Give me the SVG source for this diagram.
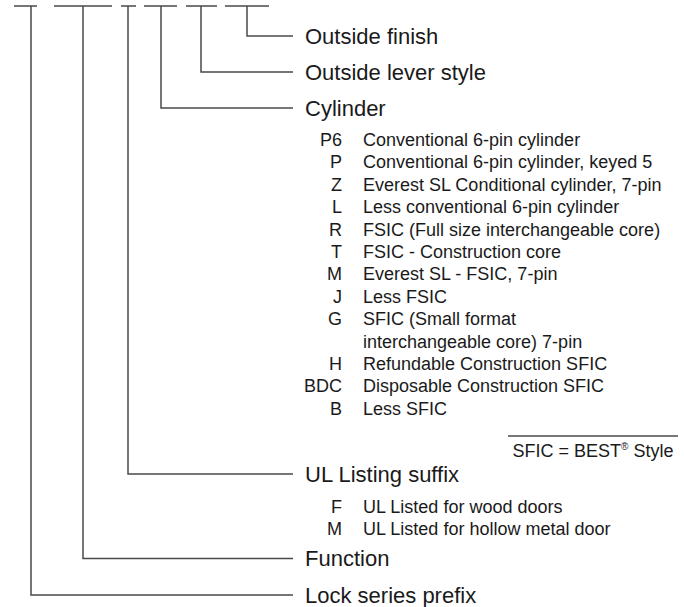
<svg xmlns="http://www.w3.org/2000/svg" width="684" height="607" viewBox="0 0 684 607">
<style>
  .ln { stroke: #4a4a4a; stroke-width: 1.5; fill: none; }
  .main { font-family: "Liberation Sans", Arial, sans-serif; font-size: 22px; fill: #1a1a1a; }
  .code { font-family: "Liberation Sans", Arial, sans-serif; font-size: 18px; fill: #1a1a1a; text-anchor: end; }
  .desc { font-family: "Liberation Sans", Arial, sans-serif; font-size: 18px; fill: #1a1a1a; }
  .note { font-family: "Liberation Sans", Arial, sans-serif; font-size: 18px; fill: #1a1a1a; text-anchor: middle; }
</style>
<rect width="684" height="607" fill="#ffffff"/>
<g id="connectors">
  <path class="ln" d="M14 6H37M54 6H112M121 6H136M144 6H177M186 6H217M225 6H269"/>
  <path class="ln" d="M247 6V36H293"/>
  <path class="ln" d="M201 6V72H293"/>
  <path class="ln" d="M161 6V108H293"/>
  <path class="ln" d="M128 6V474H293"/>
  <path class="ln" d="M83 6V558.5H293"/>
  <path class="ln" d="M31 6V595H293"/>
</g>
<g id="outside-finish"><text class="main" x="305" y="44">Outside finish</text></g>
<g id="outside-lever-style"><text class="main" x="305" y="80">Outside lever style</text></g>
<g id="cylinder">
  <text class="main" x="305" y="116">Cylinder</text>
  <text class="code" x="342" y="146">P6</text><text class="desc" x="363" y="146">Conventional 6-pin cylinder</text>
  <text class="code" x="342" y="168.4">P</text><text class="desc" x="363" y="168.4">Conventional 6-pin cylinder, keyed 5</text>
  <text class="code" x="342" y="190.8">Z</text><text class="desc" x="363" y="190.8">Everest SL Conditional cylinder, 7-pin</text>
  <text class="code" x="342" y="213.2">L</text><text class="desc" x="363" y="213.2">Less conventional 6-pin cylinder</text>
  <text class="code" x="342" y="235.6">R</text><text class="desc" x="363" y="235.6">FSIC (Full size interchangeable core)</text>
  <text class="code" x="342" y="258">T</text><text class="desc" x="363" y="258">FSIC - Construction core</text>
  <text class="code" x="342" y="280.4">M</text><text class="desc" x="363" y="280.4">Everest SL - FSIC, 7-pin</text>
  <text class="code" x="342" y="302.8">J</text><text class="desc" x="363" y="302.8">Less FSIC</text>
  <text class="code" x="342" y="325.2">G</text><text class="desc" x="363" y="325.2">SFIC (Small format</text>
  <text class="desc" x="363" y="347.6">interchangeable core) 7-pin</text>
  <text class="code" x="342" y="370">H</text><text class="desc" x="363" y="370">Refundable Construction SFIC</text>
  <text class="code" x="342" y="392.4">BDC</text><text class="desc" x="363" y="392.4">Disposable Construction SFIC</text>
  <text class="code" x="342" y="414.8">B</text><text class="desc" x="363" y="414.8">Less SFIC</text>
</g>
<g id="sfic-note">
  <line class="ln" x1="508" y1="436" x2="678" y2="436"/>
  <text class="note" x="593" y="457">SFIC = BEST<tspan font-size="10" dy="-7">®</tspan><tspan dy="7"> Style</tspan></text>
</g>
<g id="ul-listing-suffix">
  <text class="main" x="305" y="482">UL Listing suffix</text>
  <text class="code" x="342" y="513">F</text><text class="desc" x="363" y="513">UL Listed for wood doors</text>
  <text class="code" x="342" y="535">M</text><text class="desc" x="363" y="535">UL Listed for hollow metal door</text>
</g>
<g id="function"><text class="main" x="305" y="566">Function</text></g>
<g id="lock-series-prefix"><text class="main" x="305" y="603">Lock series prefix</text></g>
</svg>
